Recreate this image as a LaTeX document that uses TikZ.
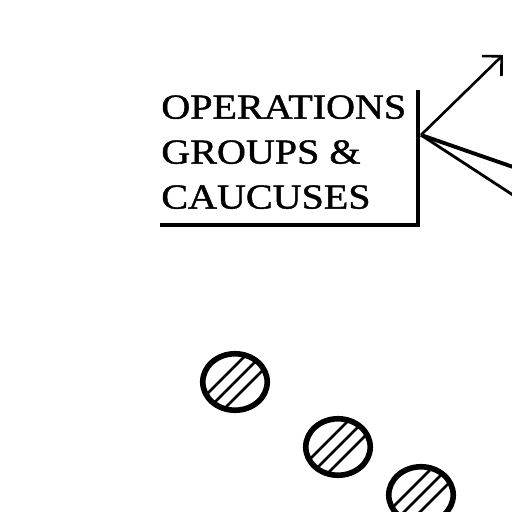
\documentclass[tikz,border=0pt]{standalone}
\usepackage{fontspec}
\setmainfont{Liberation Serif}
\newfontfamily\boardfont[FakeStretch=1.14, FakeBold=1.2]{Liberation Serif}
\usetikzlibrary{arrows.meta, shapes.geometric}

\begin{document}
\begin{tikzpicture}[x=0.02cm, y=-0.02cm,
        heading/.style={align=left, inner sep=0pt, anchor=north west, font=\boardfont\fontsize{20}{25.6}\selectfont},
        hatchdot/.style={ellipse, draw, line width=3.2pt, minimum width=1.29cm, minimum height=1.13cm, inner sep=0pt},
        hatch/.style={line width=1.6pt},
        rule/.style={line width=2.5pt}]
        \useasboundingbox (0,0) rectangle (512,512);
        \clip (0,0) rectangle (512,512);

        \node (ops) [heading] at (161,95) {OPERATIONS\\GROUPS \&\\CAUCUSES};

        % Bracket
        \coordinate (top) at (418,90);
        \coordinate (hub) at (421,135);
        \coordinate (corner) at (418,225);
        \coordinate (left) at (160,225);
        \draw [rule] (left) -- (corner) -- (top);

        % Lines
        \coordinate (up) at (503,55);
        \coordinate (exitA) at (516,168);
        \coordinate (exitB) at (516,197);
        \draw [line width=1.5pt, -{Straight Barb[length=8pt, width=16pt]}] (hub) -- (up);
        \draw [line width=2.2pt] (hub) -- (exitA);
        \draw [line width=1.6pt] (hub) -- (exitB);

        % Dots
        \node (dotA) [hatchdot] at (235,382) {};
        \node (dotB) [hatchdot] at (338,447) {};
        \node (dotC) [hatchdot] at (421,495) {};

        \foreach \d in {dotA, dotB, dotC} {
            \begin{scope}
                \clip (\d.center) ellipse [x radius=32, y radius=28];
                \foreach \o in {-8, 0, 8}
                    \draw [hatch] ([shift={(\o-40,\o+40)}]\d.center) -- ([shift={(\o+40,\o-40)}]\d.center);
            \end{scope}
        }

    \end{tikzpicture}
\end{document}
